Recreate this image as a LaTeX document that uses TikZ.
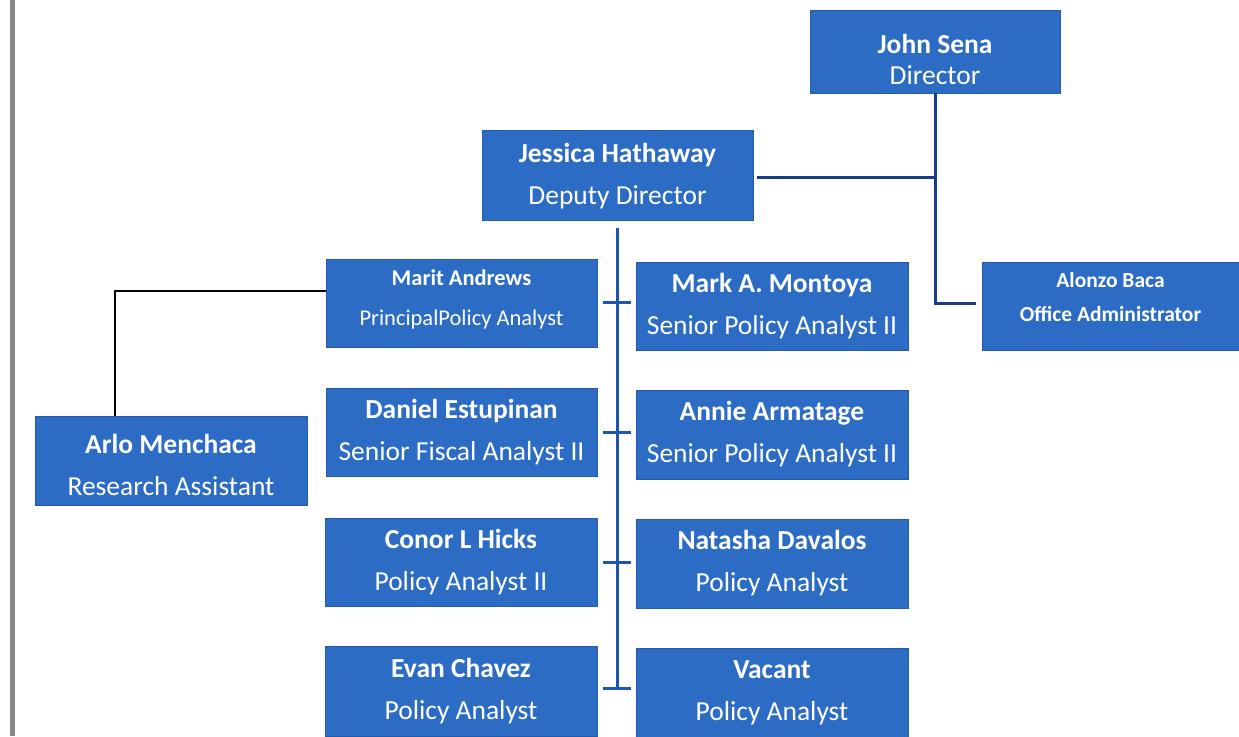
\documentclass[tikz,border=0pt]{standalone}
\usepackage{fontspec}
\setmainfont{Carlito}
\definecolor{boxblue}{RGB}{44,108,196}
\definecolor{boxedge}{RGB}{36,90,170}
\definecolor{navy}{RGB}{28,58,140}
\definecolor{midblue}{RGB}{30,86,180}
\definecolor{barGray}{RGB}{135,135,135}
\tikzset{
  orgbox/.style={draw=boxedge, line width=1pt, fill=boxblue, inner sep=0pt, minimum width=272pt, minimum height=89pt},
  txt/.style={text=white, align=center, inner sep=0pt},
  big/.style={font=\fontsize{27.5}{42}\selectfont},
  navyline/.style={draw=navy, line width=3pt},
  blueline/.style={draw=midblue, line width=3pt},
  blackline/.style={draw=black, line width=2pt},
}
\begin{document}
\begin{tikzpicture}[x=1pt,y=-1pt]
\useasboundingbox (0,0) rectangle (1239,736);
\fill[barGray] (10,0) rectangle (15,736);
% boxes
\node[orgbox, minimum width=250pt, minimum height=83pt,
  label={[txt, font=\fontsize{27.5}{31}\selectfont, yshift=-8pt]center:{\textbf{John Sena}\\Director}}] (john) at (935,51.5) {};
\node[orgbox, minimum width=271pt, minimum height=90pt,
  label={[txt, big, yshift=-1pt]center:{\textbf{Jessica Hathaway}\\Deputy Director}}] (jess) at (617.5,175) {};
\node[orgbox, minimum width=257pt, minimum height=88pt,
  label={[txt, font=\fontsize{21.5}{34}\selectfont\bfseries, yshift=9pt]center:{Alonzo Baca\\Office Administrator}}] (alonzo) at (1110.5,306) {};
\node[orgbox, minimum width=271pt, minimum height=88pt,
  label={[txt, font=\fontsize{22.5}{40}\selectfont, yshift=4pt]center:{\textbf{Marit Andrews}\\PrincipalPolicy Analyst}}] (marit) at (461.5,303) {};
\node[orgbox, minimum width=272pt, minimum height=88pt,
  label={[txt, big]center:{\textbf{Mark A. Montoya}\\Senior Policy Analyst II}}] (mark) at (772,306) {};
\node[orgbox, minimum width=271pt, minimum height=88pt,
  label={[txt, big]center:{\textbf{Daniel Estupinan}\\Senior Fiscal Analyst II}}] (daniel) at (461.5,432) {};
\node[orgbox, minimum width=272pt, minimum height=89pt,
  label={[txt, big]center:{\textbf{Annie Armatage}\\Senior Policy Analyst II}}] (annie) at (772,434.5) {};
\node[orgbox, minimum width=272pt, minimum height=89pt,
  label={[txt, big, yshift=-4pt]center:{\textbf{Arlo Menchaca}\\Research Assistant}}] (arlo) at (171,460.5) {};
\node[orgbox, minimum width=272pt, minimum height=88pt,
  label={[txt, big]center:{\textbf{Conor L Hicks}\\Policy Analyst II}}] (conor) at (461,562) {};
\node[orgbox, minimum width=272pt, minimum height=89pt,
  label={[txt, big]center:{\textbf{Natasha Davalos}\\Policy Analyst}}] (natasha) at (772,563.5) {};
\node[orgbox, minimum width=272pt, minimum height=90pt,
  label={[txt, big]center:{\textbf{Evan Chavez}\\Policy Analyst}}] (evan) at (461,691) {};
\node[orgbox, minimum width=272pt, minimum height=90pt,
  label={[txt, big]center:{\textbf{Vacant}\\Policy Analyst}}] (vacant) at (772,693) {};
% connectors
\coordinate (jtop) at (935,93);
\coordinate (jmid) at (935,177);
\coordinate (jbot) at (935,303);
\coordinate (aend) at (976,303);
\coordinate (jessR) at (757,177);
\draw[navyline] (jtop) -- (jbot) -- (aend);
\draw[navyline] (jessR) -- (jmid);
\coordinate (vtop) at (617,228);
\coordinate (vbot) at (617,688);
\draw[blueline] (vtop) -- (vbot);
\foreach \yy in {302,432,562,688}{
  \draw[blueline] (603,\yy) -- (631,\yy);
}
\coordinate (mleft) at (115,291);
\draw[blackline] (marit.west |- mleft) -- (mleft) -- (mleft |- arlo.north);
\end{tikzpicture}
\end{document}
